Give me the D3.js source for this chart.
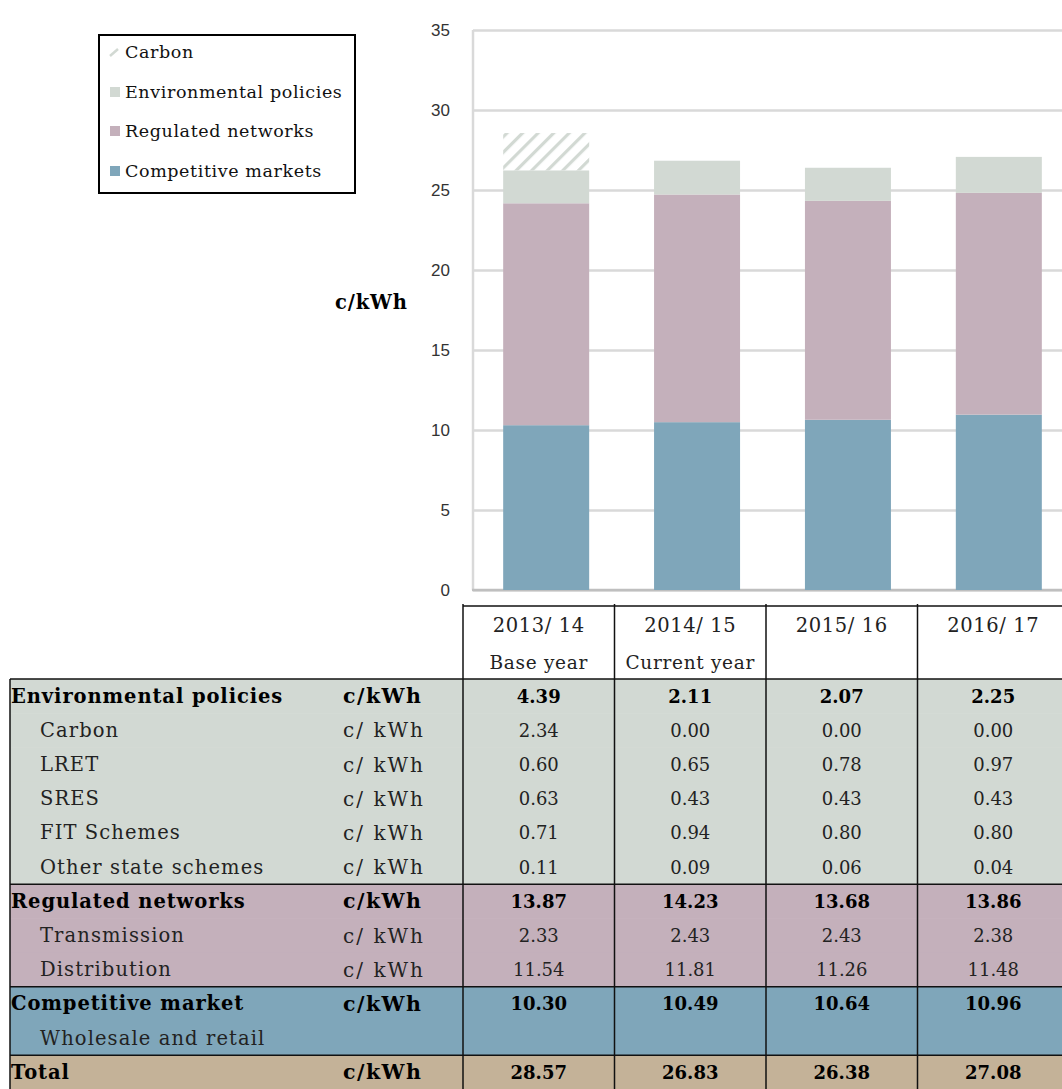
<!DOCTYPE html>
<html>
<head>
<meta charset="utf-8">
<script src="https://cdn.jsdelivr.net/npm/d3@7"></script>
<style>
  body { margin: 0; background: #fff; }
  svg { display: block; }
</style>
</head>
<body>
<div id="chart"></div>
<script>
// Price components, c/kWh
var years = ["2013/14", "2014/15", "2015/16", "2016/17"];
var yearNotes = ["Base year", "Current year", "", ""];
var envTotal = [4.39, 2.11, 2.07, 2.25];
var carbon = [2.34, 0.00, 0.00, 0.00];
var lret = [0.60, 0.65, 0.78, 0.97];
var sres = [0.63, 0.43, 0.43, 0.43];
var fitSchemes = [0.71, 0.94, 0.80, 0.80];
var otherState = [0.11, 0.09, 0.06, 0.04];
var regTotal = [13.87, 14.23, 13.68, 13.86];
var transmission = [2.33, 2.43, 2.43, 2.38];
var distribution = [11.54, 11.81, 11.26, 11.48];
var competitive = [10.30, 10.49, 10.64, 10.96];
var total = [28.57, 26.83, 26.38, 27.08];
var yTicks = [0, 5, 10, 15, 20, 25, 30, 35];
var legendItems = ["Carbon", "Environmental policies", "Regulated networks", "Competitive markets"];

var width = 1062, height = 1089;
var colors = {
  comp: "#7fa6ba",
  reg: "#c4b0bb",
  env: "#d2d9d3",
  total: "#c4b298"
};
var serif = "'DejaVu Serif', serif";

var svg = d3.select("#chart").append("svg")
  .attr("width", width)
  .attr("height", height);

// hatch for carbon
var defs = svg.append("defs");
defs.append("pattern")
  .attr("id", "hatch")
  .attr("patternUnits", "userSpaceOnUse")
  .attr("width", 11)
  .attr("height", 11)
  .attr("patternTransform", "rotate(45)")
  .append("rect")
  .attr("x", 0).attr("y", 0)
  .attr("width", 3.2).attr("height", 11)
  .attr("fill", colors.env);

// scales
var y = d3.scaleLinear().domain([0, 35]).range([590, 30]);
var x = d3.scaleBand().domain(years).range([473, 1072])
  .paddingInner(0.43).paddingOuter(0.2);

// gridlines + tick labels
var yAxis = svg.append("g")
  .attr("transform", "translate(473,0)")
  .call(d3.axisLeft(y).tickValues(yTicks).tickSize(-(1072 - 473)).tickPadding(23));
yAxis.select(".domain").remove();
yAxis.selectAll(".tick line")
  .attr("stroke", "#d9d9d9")
  .attr("stroke-width", 2.5);
yAxis.selectAll(".tick text")
  .attr("fill", "#333")
  .style("font-family", "'Liberation Sans', Arial, sans-serif")
  .style("font-size", "17px");

svg.append("line")
  .attr("x1", 473).attr("x2", 473)
  .attr("y1", y(35)).attr("y2", y(0))
  .attr("stroke", "#d9d9d9").attr("stroke-width", 2.5);
svg.append("line")
  .attr("x1", 472).attr("x2", 1072)
  .attr("y1", y(0)).attr("y2", y(0))
  .attr("stroke", "#bfbfbf").attr("stroke-width", 2.5);

// stacked bars
var barData = years.map(function(yr, i) {
  return {
    year: yr,
    comp: competitive[i],
    reg: regTotal[i],
    env: envTotal[i] - carbon[i],
    carbon: carbon[i]
  };
});
var keys = ["comp", "reg", "env", "carbon"];
var series = d3.stack().keys(keys)(barData);

svg.append("g").selectAll("g")
  .data(series)
  .enter().append("g")
  .attr("fill", function(d) { return d.key === "carbon" ? "url(#hatch)" : colors[d.key]; })
  .selectAll("rect")
  .data(function(d) { return d; })
  .enter().append("rect")
  .attr("x", function(d) { return x(d.data.year); })
  .attr("width", x.bandwidth())
  .attr("y", function(d) { return y(d[1]); })
  .attr("height", function(d) { return y(d[0]) - y(d[1]); });

// y label
svg.append("text")
  .attr("x", 335).attr("y", 302)
  .attr("dominant-baseline", "central")
  .style("font-family", serif)
  .style("font-weight", "bold")
  .style("font-size", "19.5px")
  .attr("textLength", 72)
  .attr("lengthAdjust", "spacing")
  .text("c/kWh");

// legend
var legend = svg.append("g");
legend.append("rect")
  .attr("x", 99).attr("y", 35)
  .attr("width", 256).attr("height", 158)
  .attr("fill", "#fff")
  .attr("stroke", "#000")
  .attr("stroke-width", 2);
var legendFill = ["url(#hatch)", colors.env, colors.reg, colors.comp];
var legendY = [52, 92, 131, 171];
legendItems.forEach(function(name, i) {
  if (i === 0) {
    legend.append("line")
      .attr("x1", 110).attr("y1", legendY[i] + 4)
      .attr("x2", 118).attr("y2", legendY[i] - 3)
      .attr("stroke", colors.env).attr("stroke-width", 2.5);
  } else {
    legend.append("rect")
      .attr("x", 110).attr("y", legendY[i] - 5)
      .attr("width", 10).attr("height", 10)
      .attr("fill", legendFill[i]);
  }
  legend.append("text")
    .attr("x", 125).attr("y", legendY[i])
    .attr("dominant-baseline", "central")
    .style("font-family", serif)
    .style("font-size", "17.5px")
    .style("letter-spacing", "0.6px")
    .attr("fill", "#111")
    .text(name);
});

// table
var col = d3.scaleBand().domain(years).range([463, 1069]);
var rowH = 34.2, bodyTop = 679;

var rows = [
  { label: "Environmental policies", unit: "c/kWh", vals: envTotal, bold: true, sec: "env" },
  { label: "Carbon", unit: "c/ kWh", vals: carbon, sec: "env" },
  { label: "LRET", unit: "c/ kWh", vals: lret, sec: "env" },
  { label: "SRES", unit: "c/ kWh", vals: sres, sec: "env" },
  { label: "FIT Schemes", unit: "c/ kWh", vals: fitSchemes, sec: "env" },
  { label: "Other state schemes", unit: "c/ kWh", vals: otherState, sec: "env" },
  { label: "Regulated networks", unit: "c/kWh", vals: regTotal, bold: true, sec: "reg" },
  { label: "Transmission", unit: "c/ kWh", vals: transmission, sec: "reg" },
  { label: "Distribution", unit: "c/ kWh", vals: distribution, sec: "reg" },
  { label: "Competitive market", unit: "c/kWh", vals: competitive, bold: true, sec: "comp" },
  { label: "Wholesale and retail", unit: "", vals: null, sec: "comp" },
  { label: "Total", unit: "c/kWh", vals: total, bold: true, sec: "total" }
];

var table = svg.append("g");

// row backgrounds
table.selectAll("rect.rowbg")
  .data(rows)
  .enter().append("rect")
  .attr("class", "rowbg")
  .attr("x", 10)
  .attr("y", function(d, i) { return bodyTop + i * rowH; })
  .attr("width", width - 10)
  .attr("height", rowH + 0.5)
  .attr("fill", function(d) { return colors[d.sec]; });

// header text
years.forEach(function(yr, i) {
  var cx = col(yr) + col.bandwidth() / 2;
  table.append("text")
    .attr("x", cx).attr("y", 625)
    .attr("text-anchor", "middle")
    .attr("dominant-baseline", "central")
    .style("font-family", serif)
    .style("font-size", "19.5px")
    .style("letter-spacing", "0.6px")
    .attr("fill", "#222")
    .text(yr.replace("/", "/ "));
  table.append("text")
    .attr("x", cx).attr("y", 662)
    .attr("text-anchor", "middle")
    .attr("dominant-baseline", "central")
    .style("font-family", serif)
    .style("font-size", "18.5px")
    .style("letter-spacing", "0.7px")
    .attr("fill", "#222")
    .text(yearNotes[i]);
});

// row text
rows.forEach(function(r, i) {
  var cy = bodyTop + i * rowH + rowH / 2;
  var wt = r.bold ? "bold" : "normal";
  table.append("text")
    .attr("x", r.bold ? 11 : 40).attr("y", cy)
    .attr("dominant-baseline", "central")
    .style("font-family", serif)
    .style("font-weight", wt)
    .style("font-size", "19.5px")
    .style("letter-spacing", r.bold ? "0.9px" : "1.1px")
    .attr("fill", r.bold ? "#000" : "#222")
    .text(r.label);
  if (r.unit) {
    table.append("text")
      .attr("x", 343).attr("y", cy)
      .attr("dominant-baseline", "central")
      .style("font-family", serif)
      .style("font-weight", wt)
      .style("font-size", r.bold ? "20.5px" : "20px")
      .attr("textLength", r.bold ? 78 : 80)
      .attr("lengthAdjust", "spacing")
      .attr("fill", r.bold ? "#000" : "#222")
      .text(r.unit);
  }
  if (r.vals) {
    r.vals.forEach(function(v, j) {
      table.append("text")
        .attr("x", col(years[j]) + col.bandwidth() / 2).attr("y", cy)
        .attr("text-anchor", "middle")
        .attr("dominant-baseline", "central")
        .style("font-family", serif)
        .style("font-weight", wt)
        .style("font-size", "18px")
        .attr("fill", r.bold ? "#000" : "#222")
        .text(d3.format(".2f")(v));
    });
  }
});

// grid lines of table
var lineColor = "#111";
table.append("line")
  .attr("x1", 463).attr("x2", width)
  .attr("y1", 606).attr("y2", 606)
  .attr("stroke", lineColor).attr("stroke-width", 1.5);
var sectionStarts = [0, 6, 9, 11];
sectionStarts.forEach(function(k) {
  table.append("line")
    .attr("x1", 10).attr("x2", width)
    .attr("y1", bodyTop + k * rowH).attr("y2", bodyTop + k * rowH)
    .attr("stroke", lineColor).attr("stroke-width", 1.5);
});
table.append("line")
  .attr("x1", 10).attr("x2", 10)
  .attr("y1", bodyTop).attr("y2", height)
  .attr("stroke", lineColor).attr("stroke-width", 1.5);
years.forEach(function(yr) {
  table.append("line")
    .attr("x1", col(yr)).attr("x2", col(yr))
    .attr("y1", 604).attr("y2", height)
    .attr("stroke", lineColor).attr("stroke-width", 1.5);
});
</script>
</body>
</html>
